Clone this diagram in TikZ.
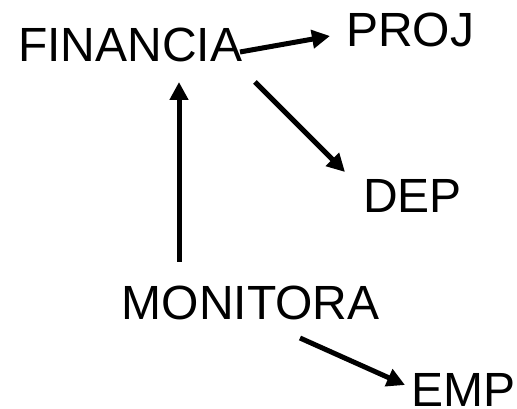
\documentclass[tikz,border=0pt]{standalone}
\usepackage{fontspec}
\setmainfont{Liberation Sans}
\usetikzlibrary{arrows.meta}
\begin{document}
\begin{tikzpicture}[x=1pt,y=1pt,
  entity/.style={inner sep=0pt, anchor=base west, font=\fontsize{48}{58}\selectfont},
  rel/.style={line width=5pt, -{Triangle[length=18pt,width=18pt]}}]
\useasboundingbox (0,0) rectangle (517,409);
% entity names
\node[entity] (fin) at (18.1,347) {FINANCIA};
\node[entity] (proj) at (346.1,362) {PROJ};
\node[entity] (dep) at (363.1,196) {DEP};
\node[entity] (mon) at (121.5,89) {MONITORA};
\node[entity] (emp) at (411,2) {EMP};
% arrow end points next to the names
\coordinate (finR) at (240,357);
\coordinate (projL) at (330,373);
\coordinate (finD) at (255,327);
\coordinate (depU) at (345,237);
\coordinate (monU) at (179,147);
\coordinate (finB) at (179,327);
\coordinate (monD) at (300,71);
\coordinate (empL) at (405,24);
% relationships
\draw[rel] (finR) -- (projL);
\draw[rel] (finD) -- (depU);
\draw[rel] (monU) -- (finB);
\draw[rel] (monD) -- (empL);
\end{tikzpicture}
\end{document}
